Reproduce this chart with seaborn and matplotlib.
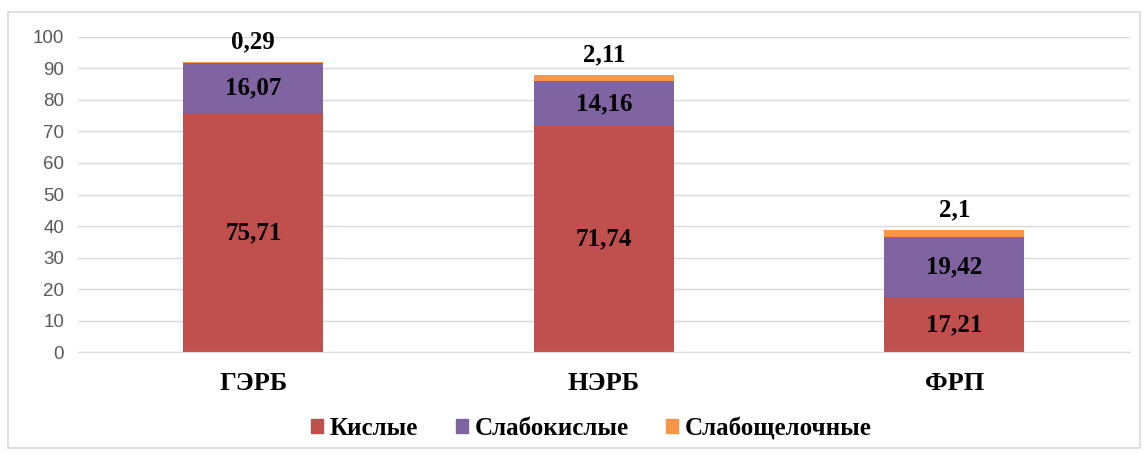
import numpy as np
import pandas as pd
import seaborn as sns
import matplotlib.pyplot as plt
from matplotlib.patches import Rectangle, Patch

# данные
categories = ['ГЭРБ', 'НЭРБ', 'ФРП']
kislye = [75.71, 71.74, 17.21]
slabokislye = [16.07, 14.16, 19.42]
slaboshchelochnye = [0.29, 2.11, 2.1]
series_names = ['Кислые', 'Слабокислые', 'Слабощелочные']

colors = ['#C0504D', '#8064A2', '#F79646']

sns.set_style('white')
plt.rcParams['font.family'] = ['Liberation Serif', 'DejaVu Serif']
plt.rcParams['text.color'] = 'black'
plt.rcParams['xtick.color'] = 'black'

fig = plt.figure(figsize=(11.48, 4.55), dpi=100)
ax = fig.add_axes([0.068, 0.226, 0.916, 0.693])

# рамка вокруг всей диаграммы
fig.patches.append(Rectangle((0.007, 0.015), 0.986, 0.958, transform=fig.transFigure,
                             fill=False, edgecolor='#D9D9D9', linewidth=1.2))

bottom = np.zeros(len(categories))
for vals, name, col in zip([kislye, slabokislye, slaboshchelochnye], series_names, colors):
    sns.barplot(x=categories, y=vals, bottom=bottom, color=col, width=0.4,
                ax=ax, saturation=1, linewidth=0)
    for i, v in enumerate(vals):
        txt = str(v).replace('.', ',')
        if name == 'Слабощелочные':
            ax.annotate(txt, (i, bottom[i] + v), xytext=(0, 6), textcoords='offset points',
                        ha='center', va='bottom', fontsize=18, fontweight='bold')
        else:
            ax.text(i, bottom[i] + v / 2, txt, ha='center', va='center',
                    fontsize=18, fontweight='bold')
    bottom = bottom + np.array(vals)

ax.set_ylim(0, 100)
ax.set_yticks(range(0, 101, 10))
ax.set_xlim(-0.5, 2.5)
ax.set_xlabel('')
ax.set_ylabel('')
ax.yaxis.grid(True, color='#D9D9D9', linewidth=1)
ax.set_axisbelow(True)
for s in ['top', 'right', 'left']:
    ax.spines[s].set_visible(False)
ax.spines['bottom'].set_color('#D9D9D9')

for lbl in ax.get_yticklabels():
    lbl.set_family(['Liberation Sans', 'DejaVu Sans'])
    lbl.set_fontsize(13.5)
    lbl.set_color('#595959')
ax.tick_params(axis='y', length=0, pad=10)
ax.tick_params(axis='x', length=0, pad=14)
for lbl in ax.get_xticklabels():
    lbl.set_fontsize(19)
    lbl.set_fontweight('bold')

handles = [Patch(color=c) for c in colors]
leg = fig.legend(handles, series_names, loc='center', bbox_to_anchor=(0.515, 0.058), ncol=3,
                 frameon=False, handlelength=0.5, handleheight=0.5, handletextpad=0.25,
                 columnspacing=1.5, fontsize=18)
for t in leg.get_texts():
    t.set_family(['Liberation Serif', 'DejaVu Serif'])
    t.set_fontweight('bold')

fig.savefig('out.png', dpi=100)
